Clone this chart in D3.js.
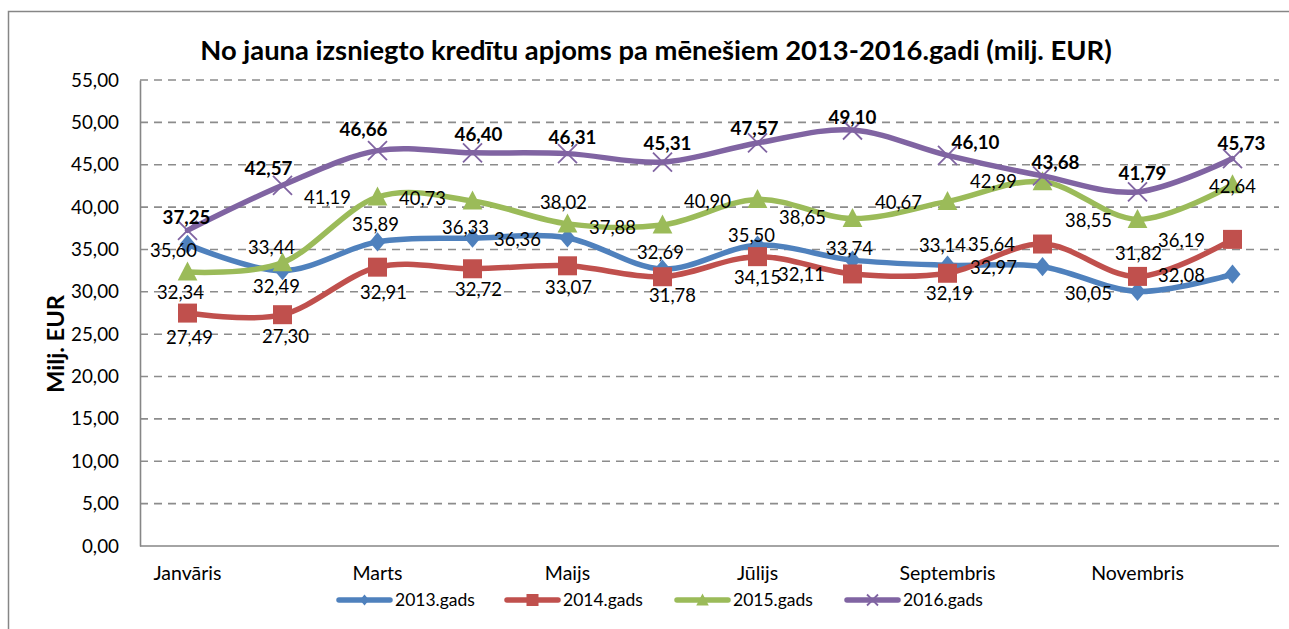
<!DOCTYPE html>
<html>
<head>
<meta charset="utf-8">
<script src="https://cdn.jsdelivr.net/npm/d3@7"></script>
<style>
  html, body { margin: 0; padding: 0; background: #fff; }
  svg { display: block; }
  text { font-family: Lato, "Open Sans", sans-serif; fill: #000; }
</style>
</head>
<body>
<svg id="chart" width="1289" height="629"></svg>
<script>
// ---------------- DATA ----------------
const months = ["Janvāris", "Februāris", "Marts", "Aprīlis", "Maijs", "Jūnijs",
                "Jūlijs", "Augusts", "Septembris", "Oktobris", "Novembris", "Decembris"];
const seriesNames = ["2013.gads", "2014.gads", "2015.gads", "2016.gads"];
const values2013 = [35.60, 32.49, 35.89, 36.33, 36.36, 32.69, 35.50, 33.74, 33.14, 32.97, 30.05, 32.08];
const values2014 = [27.49, 27.30, 32.91, 32.72, 33.07, 31.78, 34.15, 32.11, 32.19, 35.64, 31.82, 36.19];
const values2015 = [32.34, 33.44, 41.19, 40.73, 38.02, 37.88, 40.90, 38.65, 40.67, 42.99, 38.55, 42.64];
const values2016 = [37.25, 42.57, 46.66, 46.40, 46.31, 45.31, 47.57, 49.10, 46.10, 43.68, 41.79, 45.73];
const yTicks = [0, 5, 10, 15, 20, 25, 30, 35, 40, 45, 50, 55];
const titleText = "No jauna izsniegto kredītu apjoms pa mēnešiem 2013-2016.gadi (milj. EUR)";
const yTitleText = "Milj. EUR";

// -------------- LAYOUT / STYLE --------------
const colors = ["#4F81BD", "#C0504D", "#9BBB59", "#8064A2"];
const markers = ["diamond", "square", "triangle", "cross"];
// data-label offsets (label centre relative to its point), in px
const labelOffsets2013 = [[-14,6],[-6,16],[-2,-17],[-7,-11],[-50,2],[-2,-16],[-6,-10],[-3,-12],[-5,-20],[-49,1],[-49,2],[-51,1]];
const labelOffsets2014 = [[2,24],[3,22],[6,25],[6,21],[1,22],[10,19],[0,21],[-51,1],[2,20],[-51,1],[1,-23],[-51,1]];
const labelOffsets2015 = [[-7,21],[-11,-15],[-50,1],[-50,-2],[-4,-21],[-50,2],[-50,2],[-50,-1],[-49,1],[-49,0],[-49,1],[0,2]];
const labelOffsets2016 = [[-1,-13],[-14,-17],[-14,-21],[6,-18],[5,-16],[5,-19],[-3,-15],[0,-13],[28,-13],[13,-13],[5,-19],[9,-15]];

const series = [
  { name: seriesNames[0], values: values2013, offsets: labelOffsets2013, bold: false },
  { name: seriesNames[1], values: values2014, offsets: labelOffsets2014, bold: false },
  { name: seriesNames[2], values: values2015, offsets: labelOffsets2015, bold: false },
  { name: seriesNames[3], values: values2016, offsets: labelOffsets2016, bold: true }
];

const svg = d3.select("#chart");
const plot = { left: 140, right: 1279, top: 80, bottom: 546 };

// measuring helper to emulate Calibri metrics with available fonts
const meas = svg.append("text").attr("x", -1000).attr("y", -1000);
function sizeFor(str, weight, targetWidth) {
  meas.attr("font-size", 20).attr("font-weight", weight).text(str);
  const w = meas.node().getComputedTextLength();
  return 20 * targetWidth / w;
}
const fsTitle = sizeFor(titleText, "bold", 912);
const fsTick = sizeFor("55,00", "normal", 48);
const fsYTitle = sizeFor(yTitleText, "bold", 98);
const fsX = sizeFor("Janvāris", "normal", 68);
const fsLabel = sizeFor("35,60", "normal", 47);
const fsLabelBold = sizeFor("46,66", "bold", 48);
const fsLegend = sizeFor("2013.gads", "normal", 80);
meas.remove();

// outer chart border (extends beyond the picture on right/bottom)
svg.append("rect")
  .attr("x", 8.5).attr("y", 11.5).attr("width", 1400).attr("height", 700)
  .attr("fill", "none").attr("stroke", "#868686").attr("stroke-width", 1.5);

const x = d3.scaleBand().domain(months).range([plot.left, plot.left + 95 * months.length]).padding(0);
const cx = m => x(m) + x.bandwidth() / 2;
const y = d3.scaleLinear().domain([0, 55]).range([plot.bottom, plot.top]);

// gridlines
svg.append("g").selectAll("line").data(yTicks.filter(t => t > 0)).join("line")
  .attr("x1", plot.left).attr("x2", plot.right)
  .attr("y1", d => y(d)).attr("y2", d => y(d))
  .attr("stroke", "#8c8c8c").attr("stroke-width", 1.6).attr("stroke-dasharray", "8,6");

// Y axis
const yAxis = d3.axisLeft(y).tickValues(yTicks).tickSize(0).tickPadding(21)
  .tickFormat(d => d3.format(".2f")(d).replace(".", ","));
const gy = svg.append("g").attr("transform", `translate(${plot.left},0)`).call(yAxis);
gy.select(".domain").attr("stroke", "#868686").attr("stroke-width", 1.6);
gy.selectAll("text").attr("font-size", fsTick).attr("font-family", "Lato").attr("fill", "#000");

// X axis
const xAxis = d3.axisBottom(x).tickSize(0).tickPadding(20)
  .tickFormat((d, i) => i % 2 === 0 ? d : "");
const gx = svg.append("g").attr("transform", `translate(0,${plot.bottom})`).call(xAxis);
gx.select(".domain").attr("d", `M${plot.left},0H${plot.right}`).attr("stroke", "#868686").attr("stroke-width", 1.6);
gx.selectAll("text").attr("font-size", fsX).attr("font-family", "Lato").attr("fill", "#000");

// title
svg.append("text").attr("x", 656).attr("y", 50).attr("dy", "0.35em")
  .attr("text-anchor", "middle").attr("font-weight", "bold").attr("font-size", fsTitle)
  .text(titleText);

// y title
svg.append("text").attr("transform", "translate(56,344) rotate(-90)").attr("dy", "0.35em")
  .attr("text-anchor", "middle").attr("font-weight", "bold").attr("font-size", fsYTitle)
  .text(yTitleText);

// marker drawer
function drawMarker(g, type, color, s) {
  if (type === "diamond") {
    g.append("path").attr("d", `M0,${-s*0.6}L${s*0.5},0L0,${s*0.6}L${-s*0.5},0Z`).attr("fill", color);
  } else if (type === "square") {
    g.append("rect").attr("x", -s/2).attr("y", -s/2).attr("width", s).attr("height", s).attr("fill", color);
  } else if (type === "triangle") {
    g.append("path").attr("d", `M0,${-s*0.55}L${s*0.52},${s*0.45}L${-s*0.52},${s*0.45}Z`).attr("fill", color);
  } else {
    const h = s / 2;
    g.append("path").attr("d", `M${-h},${-h}L${h},${h}M${-h},${h}L${h},${-h}`)
      .attr("stroke", color).attr("stroke-width", 1.8).attr("fill", "none");
  }
}
const markerSizes = [16, 19, 19, 19];
const legendMarkerSizes = [9, 12, 12, 11];

const line = d3.line().x((d, i) => cx(months[i])).y(d => y(d)).curve(d3.curveCardinal.tension(0));

series.forEach((s, si) => {
  const g = svg.append("g");
  g.append("path").datum(s.values).attr("d", line)
    .attr("fill", "none").attr("stroke", colors[si]).attr("stroke-width", 5.5)
    .attr("stroke-linecap", "round").attr("stroke-linejoin", "round");
  s.values.forEach((v, i) => {
    const mg = g.append("g").attr("transform", `translate(${cx(months[i])},${y(v)})`);
    drawMarker(mg, markers[si], colors[si], markerSizes[si]);
  });
});

// data labels on top
series.forEach((s, si) => {
  svg.append("g").selectAll("text").data(s.values).join("text")
    .attr("x", (d, i) => cx(months[i]) + s.offsets[i][0])
    .attr("y", (d, i) => y(d) + s.offsets[i][1])
    .attr("dy", "0.35em").attr("text-anchor", "middle")
    .attr("font-size", s.bold ? fsLabelBold : fsLabel)
    .attr("font-weight", s.bold ? "bold" : "normal")
    .text(d => d3.format(".2f")(d).replace(".", ","));
});

// legend
const legendX = [337, 505, 675, 845];
const legY = 600;
series.forEach((s, si) => {
  const lg = svg.append("g").attr("transform", `translate(${legendX[si]},${legY})`);
  lg.append("line").attr("x1", 2).attr("x2", 53).attr("y1", 0).attr("y2", 0)
    .attr("stroke", colors[si]).attr("stroke-width", 5.5).attr("stroke-linecap", "round");
  const mg = lg.append("g").attr("transform", "translate(27.5,0)");
  drawMarker(mg, markers[si], colors[si], legendMarkerSizes[si]);
  lg.append("text").attr("x", 58).attr("y", 0).attr("dy", "0.35em")
    .attr("font-size", fsLegend).text(s.name);
});
</script>
</body>
</html>
